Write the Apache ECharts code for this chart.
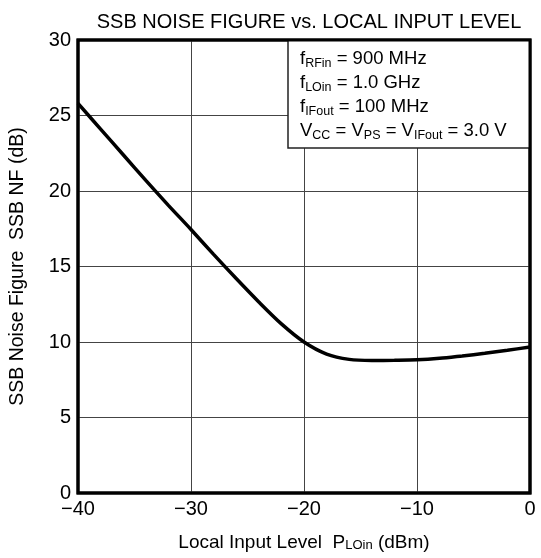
<!DOCTYPE html>
<html>
<head>
<meta charset="utf-8">
<script src="https://cdn.jsdelivr.net/npm/echarts@6/dist/echarts.min.js"></script>
<style>html,body{margin:0;padding:0;background:#fff}#c{width:541px;height:558px}</style>
</head>
<body>
<div id="c"></div>
<script>
const xValues = [-40, -38, -36, -34, -32, -30, -28, -26, -24, -22, -20, -18, -16, -14, -12, -10, -8, -6, -4, -2, 0];
const nfValues = [25.8, 24.1, 22.4, 20.7, 19.05, 17.45, 15.8, 14.2, 12.65, 11.2, 10.0, 9.2, 8.85, 8.78, 8.79, 8.82, 8.92, 9.08, 9.25, 9.45, 9.67];
const xTicks = [-40, -30, -20, -10, 0];
const yTicks = [0, 5, 10, 15, 20, 25, 30];
const noteLines = [
  ['f', 'RFin', ' = 900 MHz'],
  ['f', 'LOin', ' = 1.0 GHz'],
  ['f', 'IFout', ' = 100 MHz']
];

const FONT = '"Liberation Sans", Arial, sans-serif';
const chart = echarts.init(document.getElementById('c'));

const noteText = noteLines.map(l => l[0] + '{s|' + l[1] + '}{n|' + l[2] + '}').join('\n') +
  '\nV{s|CC}{n| = V}{s|PS}{n| = V}{s|IFout}{n| = 3.0 V}';

chart.setOption({
  animation: false,
  title: {
    text: 'SSB NOISE FIGURE vs. LOCAL INPUT LEVEL',
    left: 304, textAlign: 'center', top: 7,
    textStyle: { fontFamily: FONT, fontSize: 20, fontWeight: 'normal', color: '#000' }
  },
  grid: { left: 78, right: 11, top: 40, bottom: 65, show: true, borderColor: '#000', borderWidth: 3, backgroundColor: 'transparent' },
  xAxis: {
    type: 'value', min: xTicks[0], max: xTicks[xTicks.length - 1], interval: 10,
    name: 'Local Input Level  P{s|LOin} (dBm)', nameLocation: 'middle', nameGap: 40,
    nameTextStyle: { fontFamily: FONT, fontSize: 19, color: '#000',
      rich: { s: { fontFamily: FONT, fontSize: 13, color: '#000', verticalAlign: 'bottom', padding: [1, 0, 0, 0] } } },
    axisLine: { show: false },
    axisTick: { show: false },
    axisLabel: { fontFamily: FONT, fontSize: 20, color: '#000', margin: 6,
      formatter: v => String(v).replace('-', '\u2212') },
    splitLine: { show: true, lineStyle: { color: '#444', width: 1 } }
  },
  yAxis: {
    type: 'value', min: yTicks[0], max: yTicks[yTicks.length - 1], interval: 5,
    name: 'SSB Noise Figure  SSB NF (dB)', nameLocation: 'middle', nameGap: 50,
    nameTextStyle: { fontFamily: FONT, fontSize: 19.5, color: '#000' },
    axisLine: { show: false },
    axisTick: { show: false },
    axisLabel: { fontFamily: FONT, fontSize: 20, color: '#000', margin: 7 },
    splitLine: { show: true, lineStyle: { color: '#444', width: 1 } }
  },
  series: [{
    type: 'line',
    data: xValues.map((x, i) => [x, nfValues[i]]),
    smooth: 0.3,
    showSymbol: false,
    lineStyle: { color: '#000', width: 3.5 },
    z: 3
  }],
  graphic: [{
    type: 'rect',
    shape: { x: 288, y: 40, width: 242, height: 108 },
    style: { fill: '#fff', stroke: '#222', lineWidth: 1.5 },
    z: 4
  }, {
    type: 'text',
    left: 300, top: 47,
    style: {
      text: noteText,
      fontFamily: FONT, fontSize: 18.5, fill: '#000', lineHeight: 24,
      rich: {
        s: { fontFamily: FONT, fontSize: 12.5, fill: '#000', lineHeight: 24, verticalAlign: 'bottom', padding: [0, 0, 1, 0] },
        n: { fontFamily: FONT, fontSize: 18.5, fill: '#000', lineHeight: 24 }
      }
    },
    z: 5
  }, {
    type: 'rect',
    shape: { x: 78, y: 40, width: 452, height: 453 },
    style: { fill: 'none', stroke: '#000', lineWidth: 3 },
    z: 6, silent: true
  }]
});
</script>
</body>
</html>
